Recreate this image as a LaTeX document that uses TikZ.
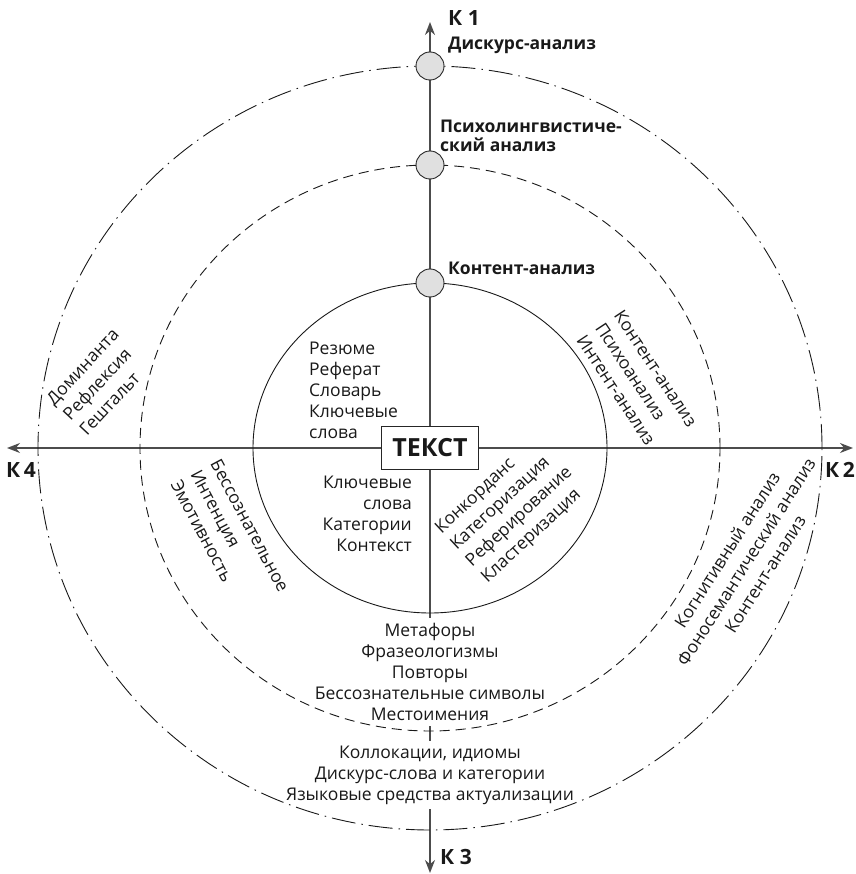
\documentclass[tikz,border=0pt]{standalone}
\usepackage{fontspec}
\setmainfont{Open Sans}
\usepackage{tikz}
\usetikzlibrary{positioning}
\usetikzlibrary{arrows.meta}
\tikzstyle{axis} = [line width=1.6pt, draw=black!70, {Stealth[length=13pt,width=10pt]}-{Stealth[length=13pt,width=10pt]}]
\tikzstyle{marker} = [circle, draw=black!85, fill=black!12, line width=0.9pt, minimum size=28pt, inner sep=0pt]

\begin{document}
\begin{tikzpicture}[x=1pt,y=1pt,
	lbl/.style = {font=\fontsize{17.5}{21}\selectfont, text=black!90, inner sep=0pt},
	rot/.style = {font=\fontsize{17.5}{22.5}\selectfont, text=black!90, inner sep=0pt},
	bold/.style = {font=\fontsize{17.5}{19}\selectfont\bfseries, text=black!90, inner sep=0pt},
	klbl/.style = {font=\fontsize{21}{24}\selectfont\bfseries, text=black!90, inner sep=0pt},
	ring/.style = {line width=0.9pt, draw=black!90},
	]
	\useasboundingbox (-430,-426) rectangle (425,448);
	% axes K1--K3, K4--K2
	\coordinate (k1end) at (0,426);
	\coordinate (k3end) at (0,-425);
	\coordinate (k4end) at (-423,0);
	\coordinate (k2end) at (423,0);
	\draw[axis] (k3end) -- (k1end);
	\draw[axis] (k4end) -- (k2end);
	% text below the core hides the axis
	\node[lbl, fill=white, align=center, inner xsep=1pt, inner ysep=5pt] (lex) at (0,-224)
	{Метафоры\\Фразеологизмы\\Повторы\\Бессознательные символы\\Местоимения};
	\node[lbl, fill=white, align=center, inner xsep=1pt, inner ysep=5pt] (disc) at (0,-327)
	{Коллокации, идиомы\\Дискурс-слова и категории\\Языковые средства актуализации};
	% levels
	\draw[ring] (0,0) ellipse [x radius=177, y radius=165];
	\draw[ring, dash pattern=on 10pt off 6pt] (0,0) ellipse [x radius=290, y radius=283];
	\draw[ring, dash pattern=on 24pt off 6pt on 1.5pt off 6pt] (0,0) ellipse [x radius=392, y radius=382];
	\node[marker] (outer) at (0,382) {};
	\node[marker] (middle) at (0,283) {};
	\node[marker] (inner) at (0,165) {};
	\node[draw=black!85, line width=1.2pt, fill=white, minimum width=97pt, minimum height=43pt,
	font=\fontsize{25}{28}\selectfont\bfseries, text=black!90] (text) at (0,0) {ТЕКСТ};
	% axis labels
	\node[klbl, anchor=west] (k1) at (18,430) {К 1};
	\node[klbl, anchor=east] (k2) at (425,-22) {К\,2};
	\node[klbl, anchor=west] (k3) at (10,-409) {К 3};
	\node[klbl, anchor=west] (k4) at (-424,-22) {К\,4};
	% methods on K1
	\node[bold, anchor=west] (discourse) at (18,403) {Дискурс-анализ};
	\node[bold, anchor=west, align=left] (psycho) at (10,312) {Психолингвистиче-\\ский анализ};
	\node[bold, anchor=west] (content) at (18,180) {Контент-анализ};
	% core quadrants
	\node[lbl, anchor=west, align=left] (summary) at (-121,58) {Резюме\\Реферат\\Словарь\\Ключевые\\слова};
	\node[lbl, anchor=east, align=right] (keywords) at (-18,-66) {Ключевые\\слова\\Категории\\Контекст};
	\node[rot, align=left, rotate=43] (concord) at (82,-61) {Конкорданс\\Категоризация\\Реферирование\\Кластеризация};
	% middle ring
	\node[rot, align=left, rotate=-56.5] (intent) at (207,67) {Контент-анализ\\Психоанализ\\Интент-анализ};
	\node[rot, align=left, rotate=-62] (unconsc) at (-200,-88) {Бессознательное\\Интенция\\Эмотивность};
	% outer ring
	\node[rot, align=left, rotate=47] (gestalt) at (-331,66) {Доминанта\\Рефлексия\\Гештальт};
	\node[rot, align=center, rotate=57.6] (cognitive) at (316,-114) {Когнитивный анализ\\Фоносемантический анализ\\Контент-анализ};
\end{tikzpicture}
\end{document}
